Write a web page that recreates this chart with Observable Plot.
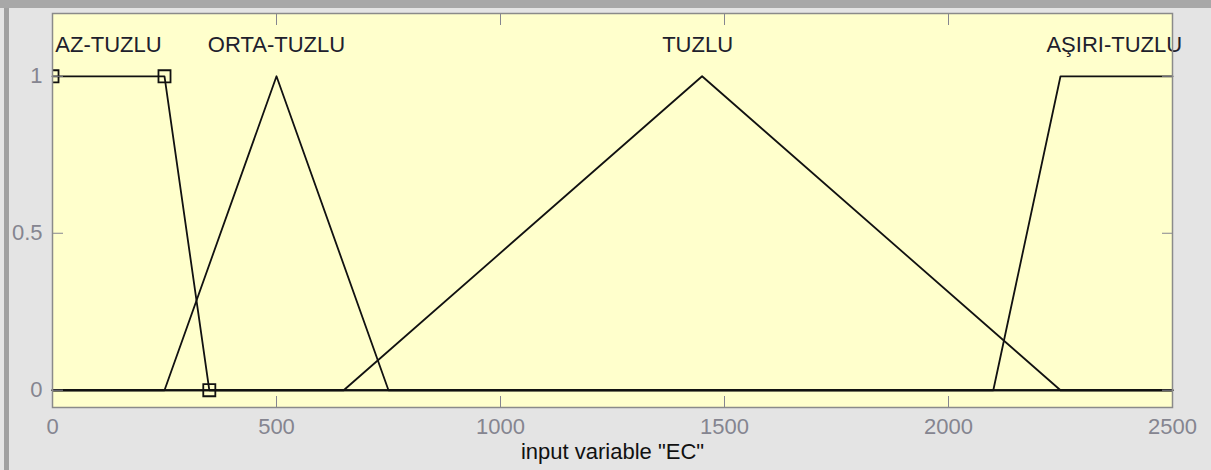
<!DOCTYPE html>
<html><head><meta charset="utf-8">
<script src="https://cdn.jsdelivr.net/npm/d3@7"></script>
<script src="https://cdn.jsdelivr.net/npm/@observablehq/plot@0.6"></script>
<style>
html,body{margin:0;padding:0;background:#e4e4e4;}
</style></head><body><div id="chart"></div>
<script>
// Membership function names and label anchor positions
const mfNames = ["AZ-TUZLU", "ORTA-TUZLU", "TUZLU", "AŞIRI-TUZLU"];
const labelX = [125, 500, 1440, 2370];
const labelY = 1.1;

// Membership function vertices (x in EC, y in degree of membership)
const azTuzluX = [0, 250, 350, 2500];
const azTuzluY = [1, 1, 0, 0];
const ortaTuzluX = [0, 250, 500, 750, 2500];
const ortaTuzluY = [0, 0, 1, 0, 0];
const tuzluX = [0, 650, 1450, 2250, 2500];
const tuzluY = [0, 0, 1, 0, 0];
const asiriTuzluX = [0, 2100, 2250, 2500];
const asiriTuzluY = [0, 0, 1, 1];

// Square handles of the selected MF (AZ-TUZLU parameters)
const squareX = [0, 250, 350];
const squareY = [1, 1, 0];

// Ticks
const xTicks = [0, 500, 1000, 1500, 2000, 2500];
const xTickLabels = ["0", "500", "1000", "1500", "2000", "2500"];
const yTicks = [0, 0.5, 1];
const yTickLabels = ["0", "0.5", "1"];
const xLabel = 'input variable "EC"';

const series = [
  {name: mfNames[0], x: azTuzluX, y: azTuzluY},
  {name: mfNames[1], x: ortaTuzluX, y: ortaTuzluY},
  {name: mfNames[2], x: tuzluX, y: tuzluY},
  {name: mfNames[3], x: asiriTuzluX, y: asiriTuzluY}
];
const lineData = series.flatMap(s => s.x.map((x, i) => ({mf: s.name, x, y: s.y[i]})));
const labelData = mfNames.map((n, i) => ({name: n, x: labelX[i], y: labelY}));
const squares = squareX.map((x, i) => ({x, y: squareY[i]}));

const font = "'Liberation Sans', Arial, sans-serif";
const gray = "#858590";

const plot = Plot.plot({
  width: 1211, height: 470,
  marginLeft: 52, marginRight: 39, marginTop: 13, marginBottom: 63,
  style: {
    background: "linear-gradient(#a8a8a8 0 8px, transparent 8px), linear-gradient(to right, transparent 0 4px, #a0a0a0 4px 9px, transparent 9px), #e4e4e4",
    fontFamily: font, fontSize: "22px", overflow: "visible"
  },
  x: {domain: [0, 2500]},
  y: {domain: [-0.055, 1.2]},
  marks: [
    Plot.frame({fill: "#ffffcc"}),
    Plot.line(lineData, {x: "x", y: "y", z: "mf", stroke: "#111", strokeWidth: 1.8}),
    Plot.dot(squares, {x: "x", y: "y", symbol: "square", r: 6.8, stroke: "#111", strokeWidth: 1.8, fill: "none", clip: true}),
    Plot.text(labelData, {x: "x", y: "y", text: "name", fill: "#20202c", fontSize: 22}),
    Plot.axisX(xTicks, {anchor: "bottom", tickSize: -11, tickFormat: () => "", stroke: gray, label: null}),
    Plot.axisX(xTicks, {anchor: "top", tickSize: -11, tickFormat: () => "", stroke: gray, label: null}),
    Plot.axisY(yTicks, {anchor: "left", tickSize: -11, tickFormat: () => "", stroke: gray, label: null}),
    Plot.axisY(yTicks, {anchor: "right", tickSize: -11, tickFormat: () => "", stroke: gray, label: null}),
    Plot.axisX(xTicks, {anchor: "bottom", tickSize: 0, tickPadding: 11, tickFormat: (d, i) => xTickLabels[i], fill: gray, fontSize: 22, label: null}),
    Plot.axisY(yTicks, {anchor: "left", tickSize: 0, tickPadding: 10, tickFormat: (d, i) => yTickLabels[i], fill: gray, fontSize: 22, label: null}),
    Plot.text([xLabel], {frameAnchor: "bottom", dy: 51, fill: "#111", fontSize: 22}),
    Plot.frame({stroke: "#8a8a8a", strokeWidth: 1.5})
  ]
});
document.getElementById("chart").appendChild(plot);
</script>
</body></html>
